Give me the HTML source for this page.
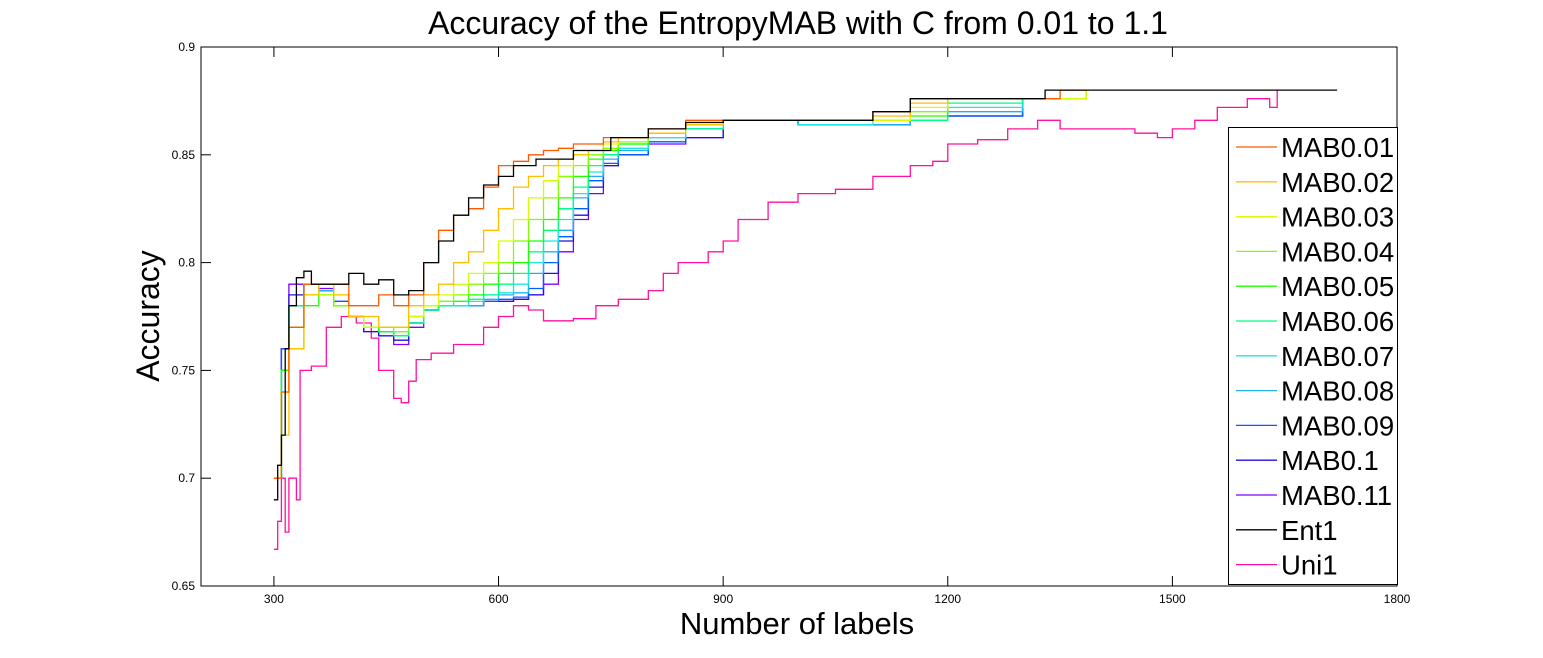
<!DOCTYPE html>
<html><head><meta charset="utf-8"><style>
body{margin:0;background:#fff;}
svg{display:block;font-family:"Liberation Sans",Arial,sans-serif;}
</style></head><body>
<svg id="chart" width="1543" height="658" viewBox="0 0 1543 658" xmlns="http://www.w3.org/2000/svg">
<rect width="1543" height="658" fill="#fff"/>
<text x="798" y="34" text-anchor="middle" font-size="32">Accuracy of the EntropyMAB with C from 0.01 to 1.1</text>
<text x="797" y="634" text-anchor="middle" font-size="31">Number of labels</text>
<text transform="translate(159,316) rotate(-90)" text-anchor="middle" font-size="32">Accuracy</text>
<g id="plot"></g>
<g id="axes"></g>
<g id="legend"></g>
</svg>
<script>
const xGrid=[300,310,320,340,360,380,400,420,440,460,480,500,520,540,560,580,600,620,640,660,680,700,720,740,760,800,850,900,950,1000,1050,1100,1150,1200,1300,1350,1385];
const mab001=[.70,.74,.77,.79,.79,.79,.78,.78,.785,.78,.785,.80,.815,.822,.825,.835,.845,.847,.85,.852,.853,.855,.855,.858,.858,.862,.866,.866,.866,.866,.866,.87,.876,.876,.876,.88,.88];
const mab002=[.70,.72,.76,.785,.79,.785,.775,.775,.77,.77,.78,.785,.79,.80,.805,.815,.825,.835,.84,.845,.848,.85,.852,.856,.858,.86,.864,.866,.866,.866,.866,.868,.874,.876,.876,.88,.88];
const mab003=[.70,.74,.76,.785,.785,.785,.775,.77,.77,.77,.775,.78,.785,.79,.795,.80,.81,.82,.83,.838,.845,.85,.852,.855,.858,.86,.864,.866,.866,.866,.866,.866,.872,.876,.876,.876,.88];
const mab004=[.70,.74,.76,.785,.785,.78,.775,.77,.77,.768,.775,.78,.782,.785,.79,.795,.80,.81,.82,.83,.84,.845,.85,.853,.856,.86,.864,.866,.866,.866,.866,.866,.87,.876,.876,.876,.88];
const mab005=[.70,.75,.77,.78,.785,.78,.775,.77,.768,.768,.775,.78,.782,.782,.785,.79,.795,.80,.81,.82,.83,.84,.848,.852,.855,.86,.864,.866,.866,.866,.866,.866,.868,.876,.876,.876,.88];
const mab006=[.70,.75,.78,.79,.785,.78,.775,.77,.768,.766,.772,.778,.78,.782,.783,.785,.79,.795,.805,.815,.825,.835,.845,.85,.855,.86,.862,.866,.866,.866,.866,.866,.866,.874,.876,.876,.88];
const mab007=[.70,.75,.78,.79,.785,.78,.775,.77,.768,.766,.772,.778,.78,.78,.782,.785,.786,.79,.80,.81,.82,.832,.842,.85,.853,.858,.862,.866,.866,.864,.864,.866,.866,.872,.876,.876,.88];
const mab008=[.70,.75,.78,.79,.787,.78,.775,.77,.768,.766,.772,.778,.78,.78,.78,.783,.785,.786,.795,.805,.815,.83,.84,.848,.852,.858,.862,.866,.866,.864,.864,.864,.866,.87,.876,.876,.88];
const mab009=[.70,.76,.78,.79,.787,.782,.775,.77,.768,.766,.772,.778,.78,.78,.78,.782,.783,.784,.788,.80,.812,.825,.838,.846,.85,.856,.862,.866,.866,.864,.864,.864,.866,.868,.876,.876,.88];
const mab010=[.70,.76,.785,.79,.787,.782,.775,.768,.766,.764,.772,.778,.78,.78,.78,.782,.782,.783,.785,.795,.81,.822,.835,.845,.85,.856,.858,.866,.866,.864,.864,.864,.866,.868,.876,.876,.88];
const mab011=[.70,.76,.79,.79,.788,.78,.775,.768,.766,.762,.77,.778,.78,.78,.78,.782,.782,.783,.785,.79,.805,.82,.832,.845,.85,.855,.858,.866,.866,.864,.864,.864,.866,.868,.876,.876,.88];
const entX=[300,305,310,315,320,330,340,350,380,400,420,440,460,480,500,520,540,560,580,600,620,650,700,750,800,850,900,1000,1100,1150,1320,1330,1720];
const entY=[.69,.706,.72,.76,.78,.793,.796,.79,.79,.795,.79,.792,.785,.787,.80,.81,.822,.83,.836,.84,.845,.848,.852,.858,.862,.865,.866,.866,.87,.876,.876,.88,.88];
const uniX=[300,305,310,315,320,330,335,350,370,390,410,430,440,460,470,480,490,510,540,580,600,620,640,660,700,730,760,800,820,840,880,900,920,960,1000,1050,1100,1150,1180,1200,1240,1280,1320,1350,1400,1450,1480,1500,1530,1560,1600,1630,1640];
const uniY=[.667,.68,.70,.675,.70,.69,.75,.752,.77,.775,.772,.765,.75,.737,.735,.745,.755,.758,.762,.77,.775,.78,.778,.773,.774,.78,.783,.787,.795,.80,.805,.81,.82,.828,.832,.834,.84,.845,.847,.855,.857,.862,.866,.862,.862,.86,.858,.862,.866,.872,.876,.872,.88];
const labels=["MAB0.01","MAB0.02","MAB0.03","MAB0.04","MAB0.05","MAB0.06","MAB0.07","MAB0.08","MAB0.09","MAB0.1","MAB0.11","Ent1","Uni1"];
const colors=["#ff5a00","#ffbf00","#d4ff00","#80ff00","#20ff00","#00ff80","#20e5e5","#20b0f0","#0060ff","#2010e0","#8000ff","#000000","#ff10a0"];
const xTicks=[300,600,900,1200,1500,1800];
const yTicks=[0.65,0.7,0.75,0.8,0.85,0.9];

const NS="http://www.w3.org/2000/svg";
const L=201,R=1397,T=47,B=586,XMIN=202.6,XMAX=1800,YMIN=0.65,YMAX=0.9;
const sx=v=>L+(v-XMIN)/(XMAX-XMIN)*(R-L);
const sy=v=>B-(v-YMIN)/(YMAX-YMIN)*(B-T);
function mk(t,a,p){const e=document.createElementNS(NS,t);for(const k in a)e.setAttribute(k,a[k]);p.appendChild(e);return e;}
function stepPath(xs,ys){let d="M"+sx(xs[0]).toFixed(1)+","+sy(ys[0]).toFixed(1);for(let i=1;i<xs.length;i++){d+="H"+sx(xs[i]).toFixed(1)+"V"+sy(ys[i]).toFixed(1);}return d;}
const plot=document.getElementById("plot");
const mabs=[mab001,mab002,mab003,mab004,mab005,mab006,mab007,mab008,mab009,mab010,mab011];
const order=[10,9,8,7,6,5,4,3,2,1,0];
const uni=mk("path",{d:stepPath(uniX,uniY),fill:"none",stroke:colors[12],"stroke-width":1.3},plot);


order.forEach(i=>{
 const p=mk("path",{d:stepPath(xGrid,mabs[i]),fill:"none",stroke:colors[i],"stroke-width":1.3},plot);
 
 
});
const ent=mk("path",{d:stepPath(entX,entY),fill:"none",stroke:colors[11],"stroke-width":1.3},plot);



const axes=document.getElementById("axes");
const box=mk("rect",{x:L,y:T,width:R-L,height:B-T,fill:"none",stroke:"#000","stroke-width":1},axes);


xTicks.forEach(v=>{
 const x=sx(v);
 mk("line",{x1:x,y1:B,x2:x,y2:B-10,stroke:"#000"},axes);
 mk("line",{x1:x,y1:T,x2:x,y2:T+10,stroke:"#000"},axes);
 const t=mk("text",{x:x,y:B+17,"text-anchor":"middle","font-size":12},axes);
 t.textContent=v;
 
 
});
yTicks.forEach(v=>{
 const y=sy(v);
 mk("line",{x1:L,y1:y,x2:L+10,y2:y,stroke:"#000"},axes);
 mk("line",{x1:R,y1:y,x2:R-10,y2:y,stroke:"#000"},axes);
 const t=mk("text",{x:L-6,y:y+4,"text-anchor":"end","font-size":12},axes);
 t.textContent=String(v);
 
 
});
const leg=document.getElementById("legend");


mk("rect",{x:1228.5,y:127.5,width:169,height:457,fill:"#fff",stroke:"#000"},leg);
labels.forEach((lab,i)=>{
 const y=147+i*34.8;
 const g=mk("g",{},leg);
 
 
 mk("line",{x1:1236,y1:y,x2:1277,y2:y,stroke:colors[i],"stroke-width":1.3},g);
 const t=mk("text",{x:1281,y:y+10,"font-size":27.5},g);
 t.textContent=lab;
});
</script>
</body></html>
